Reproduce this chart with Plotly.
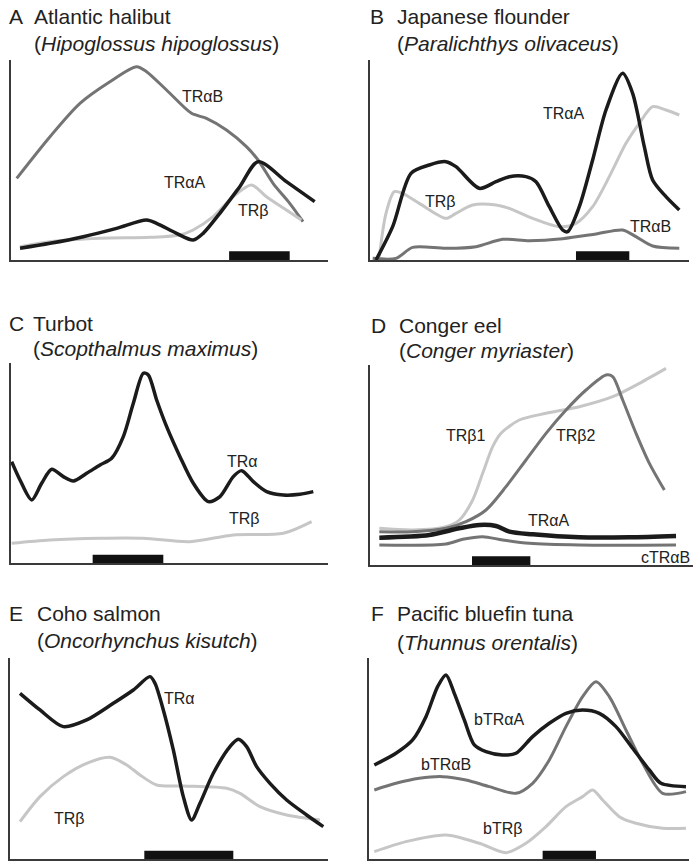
import plotly.graph_objects as go

W, H = 693, 861

# ---------------- data (relative expression, arbitrary units) ----------------
# Panel A  Atlantic halibut
A_TRaB_x = [18, 118, 208, 298, 378, 408, 468, 543, 588, 648, 708, 743, 788, 838, 878]
A_TRaB_y = [245, 370, 470, 535, 580, 565, 510, 440, 425, 390, 340, 300, 230, 170, 115]
A_TRaA_x = [28, 118, 218, 318, 408, 438, 498, 548, 578, 628, 688, 743, 828, 913]
A_TRaA_y = [35, 50, 70, 95, 120, 110, 80, 60, 80, 140, 220, 295, 235, 175]
A_TRb_x = [28, 118, 268, 418, 508, 548, 608, 668, 723, 768, 828, 873]
A_TRb_y = [40, 55, 65, 68, 75, 90, 130, 190, 225, 190, 150, 120]
A_bar = [656, 838]

# Panel B  Japanese flounder
B_TRaA_x = [18, 68, 123, 178, 228, 258, 328, 378, 418, 468, 498, 538, 578, 593, 628, 668, 708, 758, 788, 823, 848, 888, 928]
B_TRaA_y = [0, 100, 260, 285, 295, 280, 215, 235, 250, 250, 235, 160, 90, 85, 160, 300, 450, 560, 500, 340, 240, 190, 150]
B_TRb_x = [28, 48, 73, 98, 148, 228, 258, 308, 378, 418, 488, 568, 618, 668, 718, 768, 808, 848, 888, 928]
B_TRb_y = [10, 140, 205, 200, 170, 125, 140, 165, 165, 155, 125, 100, 110, 160, 250, 350, 410, 460, 450, 435]
B_TRaB_x = [8, 78, 128, 228, 318, 398, 478, 578, 678, 758, 798, 848, 928]
B_TRaB_y = [5, 5, 38, 35, 40, 62, 58, 64, 78, 90, 70, 42, 35]
B_bar = [618, 778]

# Panel C  Turbot
C_TRa_x = [2, 27, 62, 92, 122, 157, 187, 227, 267, 302, 337, 367, 397, 412, 437, 467, 507, 547, 592, 627, 667, 692, 727, 767, 817, 867, 907]
C_TRa_y = [305, 250, 190, 240, 282, 260, 247, 270, 295, 315, 380, 480, 570, 565, 490, 410, 320, 240, 185, 200, 260, 278, 245, 215, 205, 207, 215]
C_TRb_x = [2, 117, 267, 397, 537, 667, 817, 902]
C_TRb_y = [60, 70, 75, 75, 65, 85, 90, 125]
C_bar = [245, 457]

# Panel D  Conger eel
D_TRb1_x = [28, 128, 228, 268, 308, 338, 368, 393, 448, 528, 628, 728, 808, 888]
D_TRb1_y = [110, 105, 115, 135, 195, 275, 355, 395, 435, 455, 475, 505, 545, 590]
D_TRb2_x = [28, 128, 228, 288, 348, 408, 468, 528, 588, 648, 708, 728, 758, 798, 838, 883]
D_TRb2_y = [100, 100, 110, 130, 165, 235, 315, 395, 465, 525, 570, 565, 495, 395, 305, 225]
D_TRaA_x = [28, 178, 268, 328, 378, 418, 488, 628, 778, 918]
D_TRaA_y = [82, 90, 110, 120, 117, 100, 92, 83, 83, 87]
D_cTRaB_x = [28, 228, 278, 338, 398, 478, 628, 918]
D_cTRaB_y = [60, 63, 77, 85, 75, 65, 60, 60]
D_bar = [306, 481]

# Panel E  Coho salmon
E_TRa_x = [30, 90, 160, 230, 310, 370, 420, 435, 460, 490, 520, 545, 570, 610, 660, 685, 710, 740, 780, 830, 890, 940]
E_TRa_y = [498, 448, 398, 418, 468, 508, 548, 528, 448, 328, 188, 118, 168, 258, 338, 360, 338, 278, 228, 178, 133, 98]
E_TRb_x = [30, 90, 160, 230, 300, 350, 390, 440, 520, 650, 690, 750, 830, 930]
E_TRb_y = [113, 188, 248, 288, 306, 283, 253, 223, 220, 213, 198, 158, 133, 118]
E_bar = [403, 670]

# Panel F  Pacific bluefin tuna
F_bTRaA_x = [15, 80, 130, 170, 205, 230, 255, 285, 315, 350, 400, 440, 490, 540, 590, 640, 690, 740, 790, 840, 875, 950]
F_bTRaA_y = [283, 318, 358, 428, 518, 553, 498, 418, 343, 323, 313, 318, 368, 408, 438, 448, 438, 398, 333, 268, 228, 218]
F_bTRaB_x = [15, 80, 150, 220, 290, 360, 440, 490, 540, 590, 640, 680, 720, 770, 820, 880, 950]
F_bTRaB_y = [208, 228, 243, 248, 238, 218, 198, 228, 298, 398, 488, 533, 488, 388, 288, 198, 203]
F_bTRb_x = [15, 110, 230, 330, 410, 470, 530, 590, 640, 670, 700, 750, 800, 880, 950]
F_bTRb_y = [23, 53, 73, 48, 20, 48, 98, 158, 188, 208, 178, 128, 108, 93, 93]
F_bar = [520, 680]

BLACK = "#1b1b1b"
MID = "#747474"
LIGHT = "#c6c6c6"
FONT = "Liberation Sans, Arial, Helvetica, sans-serif"
TITLE_SIZE = 21
LABEL_SIZE = 16

# panel geometry in pixels: (left, right, top, bottom), axis ranges
panels = [
    dict(box=(10.7, 328.0, 60, 260), xr=953, yr=600,
         letter="A", lx=7, tx=32, ty=(17, 43),
         name="Atlantic halibut", sci="Hipoglossus hipoglossus",
         lines=[(A_TRaB_x, A_TRaB_y, MID, 3), (A_TRb_x, A_TRb_y, LIGHT, 3), (A_TRaA_x, A_TRaA_y, BLACK, 3.5)],
         bar=A_bar,
         labels=[("TRαB", 576, 490, "center"), ("TRαA", 523, 232, "center"), ("TRβ", 728, 148, "center")]),
    dict(box=(370.0, 689.3, 60, 260), xr=958, yr=600,
         letter="B", lx=368, tx=395, ty=(17, 43),
         name="Japanese flounder", sci="Paralichthys olivaceus",
         lines=[(B_TRb_x, B_TRb_y, LIGHT, 3), (B_TRaB_x, B_TRaB_y, MID, 3), (B_TRaA_x, B_TRaA_y, BLACK, 3.5)],
         bar=B_bar,
         labels=[("TRαA", 583, 440, "center"), ("TRβ", 213, 175, "center"), ("TRαB", 843, 102, "center")]),
    dict(box=(11.0, 328.3, 363.3, 563.3), xr=952, yr=600,
         letter="C", lx=7, tx=31, ty=(323, 348),
         name="Turbot", sci="Scopthalmus maximus",
         lines=[(C_TRb_x, C_TRb_y, LIGHT, 3), (C_TRa_x, C_TRa_y, BLACK, 3.5)],
         bar=C_bar,
         labels=[("TRα", 695, 305, "center"), ("TRβ", 702, 135, "center")]),
    dict(box=(370.0, 692.7, 365, 565), xr=968, yr=600,
         letter="D", lx=369, tx=397, ty=(325, 350),
         name="Conger eel", sci="Conger myriaster",
         lines=[(D_TRb1_x, D_TRb1_y, LIGHT, 3), (D_TRb2_x, D_TRb2_y, MID, 3),
                (D_cTRaB_x, D_cTRaB_y, MID, 3), (D_TRaA_x, D_TRaA_y, BLACK, 4.5)],
         bar=D_bar,
         labels=[("TRβ1", 288, 390, "center"), ("TRβ2", 618, 390, "center"),
                 ("TRαA", 538, 135, "center"), ("cTRαB", 966, 24, "right")]),
    dict(box=(10.0, 328.3, 658.3, 859.3), xr=955, yr=603,
         letter="E", lx=7, tx=35, ty=(613, 640),
         name="Coho salmon", sci="Oncorhynchus kisutch",
         lines=[(E_TRb_x, E_TRb_y, LIGHT, 3), (E_TRa_x, E_TRa_y, BLACK, 3.5)],
         bar=E_bar,
         labels=[("TRα", 510, 483, "center"), ("TRβ", 178, 123, "center")]),
    dict(box=(369.3, 689.3, 658.3, 859.3), xr=960, yr=603,
         letter="F", lx=369, tx=395, ty=(613, 642),
         name="Pacific bluefin tuna", sci="Thunnus orentalis",
         lines=[(F_bTRb_x, F_bTRb_y, LIGHT, 3), (F_bTRaB_x, F_bTRaB_y, MID, 3), (F_bTRaA_x, F_bTRaA_y, BLACK, 3.5)],
         bar=F_bar,
         labels=[("bTRαA", 390, 418, "center"), ("bTRαB", 230, 285, "center"), ("bTRβ", 400, 93, "center")]),
]

fig = go.Figure()
layout = dict(width=W, height=H, margin=dict(l=0, r=0, t=0, b=0),
              paper_bgcolor="white", plot_bgcolor="white", showlegend=False,
              font=dict(family=FONT, color="#222"))
annotations = []
shapes = []

for i, p in enumerate(panels, start=1):
    sfx = "" if i == 1 else str(i)
    xa, ya = "x" + sfx, "y" + sfx
    l, r, t, b = p["box"]
    axis_common = dict(showticklabels=False, ticks="", showgrid=False, zeroline=False,
                       showline=True, linecolor="#3a3a3a", linewidth=1.5, fixedrange=True)
    layout["xaxis" + sfx] = dict(domain=[l / W, r / W], range=[0, p["xr"]], anchor=ya, **axis_common)
    layout["yaxis" + sfx] = dict(domain=[1 - b / H, 1 - t / H], range=[0, p["yr"]], anchor=xa, **axis_common)

    for xs, ys, col, wd in p["lines"]:
        fig.add_trace(go.Scatter(x=xs, y=ys, mode="lines", xaxis=xa, yaxis=ya,
                                 line=dict(color=col, width=wd, shape="spline", smoothing=0.8),
                                 hoverinfo="skip", cliponaxis=False))

    x0, x1 = p["bar"]
    shapes.append(dict(type="rect", xref=xa, yref=ya, x0=x0, x1=x1, y0=0, y1=26,
                       fillcolor="#111", line=dict(width=0), layer="above"))

    for txt, lx, ly, anc in p["labels"]:
        annotations.append(dict(text=txt, x=lx, y=ly, xref=xa, yref=ya, showarrow=False,
                                font=dict(size=LABEL_SIZE, family=FONT, color="#222"),
                                xanchor=anc, yanchor="middle"))

    y1, y2 = p["ty"]
    tfont = dict(size=TITLE_SIZE, family=FONT, color="#222")
    annotations.append(dict(text=p["letter"], x=p["lx"] / W, y=1 - y1 / H, xref="paper", yref="paper",
                            showarrow=False, xanchor="left", yanchor="middle", font=tfont))
    annotations.append(dict(text=p["name"], x=p["tx"] / W, y=1 - y1 / H, xref="paper", yref="paper",
                            showarrow=False, xanchor="left", yanchor="middle", font=tfont))
    annotations.append(dict(text="(<i>" + p["sci"] + "</i>)", x=p["tx"] / W, y=1 - y2 / H,
                            xref="paper", yref="paper", showarrow=False, xanchor="left", yanchor="middle",
                            font=tfont))

layout["annotations"] = annotations
layout["shapes"] = shapes
fig.update_layout(**layout)
fig.write_html("out.html", config={"displayModeBar": False},
               post_script="document.body.style.margin='0px';document.body.style.overflow='hidden';")
